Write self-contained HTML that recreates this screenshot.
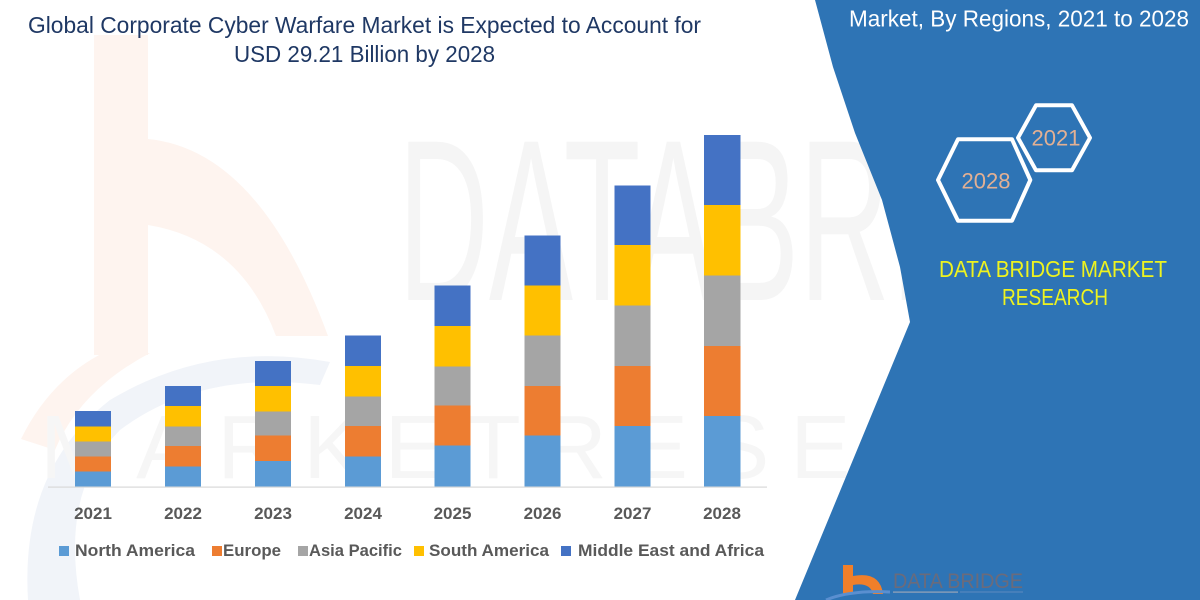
<!DOCTYPE html>
<html>
<head>
<meta charset="utf-8">
<style>
  html, body { margin: 0; padding: 0; background: #ffffff; }
  svg { display: block; }
  text { font-family: "Liberation Sans", sans-serif; }
</style>
</head>
<body>
<svg width="1200" height="600" viewBox="0 0 1200 600" xmlns="http://www.w3.org/2000/svg">
  <rect x="0" y="0" width="1200" height="600" fill="#ffffff"/>

  <!-- faint watermark logo on left -->
  <g opacity="1">
    <rect x="94" y="35" width="54" height="320" fill="#fef4ef"/>
    <path d="M148,139 Q260,150 328,336 L276,336 Q240,240 148,225 Z" fill="#fef4ef"/>
    <path d="M21,439 Q50,380 103,353 L150,353 Q80,390 55,450 Z" fill="#fef4ef"/>
    <path d="M28,600 Q20,470 110,400 Q210,340 330,362 L320,385 Q200,370 120,430 Q60,490 80,600 Z" fill="#f1f4f9"/>
  </g>

  <!-- faint watermark letters -->
  <text x="398" y="300" font-size="230" fill="#f5f5f5" textLength="800" lengthAdjust="spacingAndGlyphs">DATABRIDGE</text>
  <text x="40" y="478" font-size="90" fill="#f6f6f6" textLength="1150" lengthAdjust="spacing">MARKETRESEARCH</text>

  <!-- Title -->
  <text x="28" y="33" font-size="23" fill="#1f3864" textLength="673" lengthAdjust="spacingAndGlyphs">Global Corporate Cyber Warfare Market is Expected to Account for</text>
  <text x="234" y="62" font-size="23" fill="#1f3864" textLength="261" lengthAdjust="spacingAndGlyphs">USD 29.21 Billion by 2028</text>

  <!-- axis line -->
  <rect x="48" y="486.5" width="719" height="1.2" fill="#d9d9d9"/>

  <!-- Bars: NA, EU, AP, SA, MEA -->
  <g>
    <!-- 2021 -->
    <rect x="75" y="471.5" width="36" height="15" fill="#5b9bd5"/>
    <rect x="75" y="456.5" width="36" height="15" fill="#ed7d31"/>
    <rect x="75" y="441.5" width="36" height="15" fill="#a5a5a5"/>
    <rect x="75" y="426.5" width="36" height="15" fill="#ffc000"/>
    <rect x="75" y="411" width="36" height="15.5" fill="#4472c4"/>
    <!-- 2022 -->
    <rect x="165" y="466.5" width="36" height="20" fill="#5b9bd5"/>
    <rect x="165" y="446" width="36" height="20.5" fill="#ed7d31"/>
    <rect x="165" y="426.5" width="36" height="19.5" fill="#a5a5a5"/>
    <rect x="165" y="406" width="36" height="20.5" fill="#ffc000"/>
    <rect x="165" y="386" width="36" height="20" fill="#4472c4"/>
    <!-- 2023 -->
    <rect x="255" y="461" width="36" height="25.5" fill="#5b9bd5"/>
    <rect x="255" y="435.5" width="36" height="25.5" fill="#ed7d31"/>
    <rect x="255" y="411.5" width="36" height="24" fill="#a5a5a5"/>
    <rect x="255" y="386" width="36" height="25.5" fill="#ffc000"/>
    <rect x="255" y="361" width="36" height="25" fill="#4472c4"/>
    <!-- 2024 -->
    <rect x="345" y="456.5" width="36" height="30" fill="#5b9bd5"/>
    <rect x="345" y="426" width="36" height="30.5" fill="#ed7d31"/>
    <rect x="345" y="396.5" width="36" height="29.5" fill="#a5a5a5"/>
    <rect x="345" y="366" width="36" height="30.5" fill="#ffc000"/>
    <rect x="345" y="335.5" width="36" height="30.5" fill="#4472c4"/>
    <!-- 2025 -->
    <rect x="434.5" y="445.5" width="36" height="41" fill="#5b9bd5"/>
    <rect x="434.5" y="405.5" width="36" height="40" fill="#ed7d31"/>
    <rect x="434.5" y="366.5" width="36" height="39" fill="#a5a5a5"/>
    <rect x="434.5" y="326" width="36" height="40.5" fill="#ffc000"/>
    <rect x="434.5" y="285.5" width="36" height="40.5" fill="#4472c4"/>
    <!-- 2026 -->
    <rect x="524.5" y="435.5" width="36" height="51" fill="#5b9bd5"/>
    <rect x="524.5" y="386" width="36" height="49.5" fill="#ed7d31"/>
    <rect x="524.5" y="335.5" width="36" height="50.5" fill="#a5a5a5"/>
    <rect x="524.5" y="285.5" width="36" height="50" fill="#ffc000"/>
    <rect x="524.5" y="235.5" width="36" height="50" fill="#4472c4"/>
    <!-- 2027 -->
    <rect x="614.5" y="426" width="36" height="60.5" fill="#5b9bd5"/>
    <rect x="614.5" y="366" width="36" height="60" fill="#ed7d31"/>
    <rect x="614.5" y="305.5" width="36" height="60.5" fill="#a5a5a5"/>
    <rect x="614.5" y="245" width="36" height="60.5" fill="#ffc000"/>
    <rect x="614.5" y="185.5" width="36" height="59.5" fill="#4472c4"/>
    <!-- 2028 -->
    <rect x="704" y="416" width="36.5" height="70.5" fill="#5b9bd5"/>
    <rect x="704" y="346" width="36.5" height="70" fill="#ed7d31"/>
    <rect x="704" y="275.5" width="36.5" height="70.5" fill="#a5a5a5"/>
    <rect x="704" y="205" width="36.5" height="70.5" fill="#ffc000"/>
    <rect x="704" y="135" width="36.5" height="70" fill="#4472c4"/>
  </g>

  <!-- Year labels -->
  <g font-size="17" font-weight="bold" fill="#595959" text-anchor="middle">
    <text x="93" y="519">2021</text>
    <text x="183" y="519">2022</text>
    <text x="273" y="519">2023</text>
    <text x="363" y="519">2024</text>
    <text x="452.5" y="519">2025</text>
    <text x="542.5" y="519">2026</text>
    <text x="632.5" y="519">2027</text>
    <text x="722" y="519">2028</text>
  </g>

  <!-- Legend -->
  <g font-size="17" font-weight="bold" fill="#595959">
    <rect x="59" y="546" width="10" height="10" fill="#5b9bd5"/>
    <text x="75" y="556" textLength="120" lengthAdjust="spacingAndGlyphs">North America</text>
    <rect x="212" y="546" width="10" height="10" fill="#ed7d31"/>
    <text x="223" y="556" textLength="58" lengthAdjust="spacingAndGlyphs">Europe</text>
    <rect x="298" y="546" width="10" height="10" fill="#a5a5a5"/>
    <text x="309" y="556" textLength="93" lengthAdjust="spacingAndGlyphs">Asia Pacific</text>
    <rect x="414" y="546" width="10" height="10" fill="#ffc000"/>
    <text x="429" y="556" textLength="120" lengthAdjust="spacingAndGlyphs">South America</text>
    <rect x="561" y="546" width="10" height="10" fill="#4472c4"/>
    <text x="578" y="556" textLength="186" lengthAdjust="spacingAndGlyphs">Middle East and Africa</text>
  </g>

  <!-- Right blue panel -->
  <path d="M815,0 L833,67 L855,133 L882,200 L900,267 L910,322 L795,600 L1200,600 L1200,0 Z" fill="#2e74b5"/>

  <text x="849" y="26.5" font-size="23" fill="#ffffff" textLength="340" lengthAdjust="spacingAndGlyphs">Market, By Regions, 2021 to 2028</text>

  <!-- Hexagons -->
  <g fill="none" stroke="#ffffff" stroke-width="4" stroke-linejoin="round">
    <path d="M1018,137.8 L1036,105.3 L1072,105.3 L1090,137.8 L1072,170.3 L1036,170.3 Z"/>
    <path d="M938,180 L958,139.3 L1012,139.3 L1030.3,180 L1012,220.7 L958,220.7 Z"/>
  </g>
  <text x="1056" y="145.7" font-size="22" fill="#e3b093" text-anchor="middle">2021</text>
  <text x="986" y="188.3" font-size="22" fill="#e3b093" text-anchor="middle">2028</text>

  <!-- DATA BRIDGE MARKET RESEARCH -->
  <text x="939" y="277" font-size="23" fill="#eef31f" textLength="228" lengthAdjust="spacingAndGlyphs">DATA BRIDGE MARKET</text>
  <text x="1002" y="305" font-size="23" fill="#eef31f" textLength="106" lengthAdjust="spacingAndGlyphs">RESEARCH</text>

  <!-- bottom logo -->
  <path d="M843,565 L853,565 L853,576 Q880,571 883,594 L873,594 Q870,582 853,585 L853,594 L843,594 Z" fill="#f07f2a"/>
  <path d="M826,600 Q850,590 890,592" fill="none" stroke="#5a8fd0" stroke-width="3"/>
  <text x="893" y="588" font-family="Liberation Serif, serif" font-size="21" fill="#6b6b7b" textLength="130" lengthAdjust="spacingAndGlyphs">DATA BRIDGE</text>
  <rect x="893" y="591.5" width="65" height="1.2" fill="#9aa6b8"/>
  <rect x="960" y="591.5" width="63" height="1" fill="#5f8ac0"/>
</svg>
</body>
</html>
